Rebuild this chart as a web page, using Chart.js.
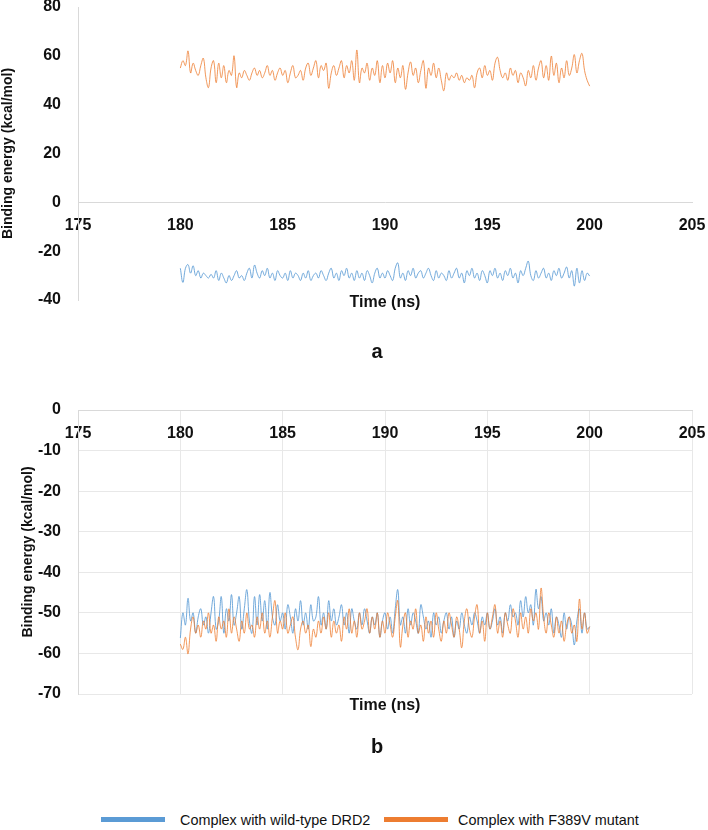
<!DOCTYPE html>
<html>
<head>
<meta charset="utf-8">
<title>Binding energy</title>
<script src="https://cdn.jsdelivr.net/npm/chart.js@4.4.0/dist/chart.umd.min.js"></script>
<style>
  html, body { margin: 0; padding: 0; background: #fff; }
  body { width: 708px; height: 830px; position: relative; overflow: hidden;
         font-family: Arial, 'Liberation Sans', sans-serif; color: #111; }
  canvas { position: absolute; left: 0; }
  #chartA { top: 0; }
  #chartB { top: 370px; }
  .lbl { position: absolute; font-weight: bold; transform: translate(-50%, -50%); white-space: nowrap; }
  .xt { font-size: 16px; }
  .panel { font-size: 20px; }
  .key { position: absolute; height: 5px; }
  .keytext { position: absolute; font-size: 14.4px; transform: translateY(-50%); white-space: nowrap; }
</style>
</head>
<body>
<canvas id="chartA" width="708" height="330"></canvas>
<canvas id="chartB" width="708" height="360"></canvas>

<div class="lbl xt" style="left:385px; top:302px;">Time (ns)</div>
<div class="lbl panel" style="left:377px; top:351px;">a</div>
<div class="lbl xt" style="left:385px; top:705px;">Time (ns)</div>
<div class="lbl panel" style="left:377px; top:746px;">b</div>

<div class="key" style="left:101px; top:817px; width:64px; background:#5B9BD5;"></div>
<div class="keytext" style="left:180px; top:820px;">Complex with wild-type DRD2</div>
<div class="key" style="left:384px; top:817px; width:64px; background:#ED7D31;"></div>
<div class="keytext" style="left:458px; top:820px;">Complex with F389V mutant</div>

<script>
// sampling of the trajectory (ns), 8 frames per ns from 180 to 200
const timeStart = 180;
const timeStep = 0.125;
const xTicks = [175, 180, 185, 190, 195, 200, 205];

// panel a
const wtA = [
  -27, -32.8, -27, -25.5, -29, -26, -30, -28,
  -31, -29, -30, -31, -29.5, -31, -28, -32,
  -29, -31, -33, -30, -32, -30, -28, -31,
  -30, -32, -29, -27, -31, -25.7, -29, -31,
  -28, -30, -27, -31, -29, -32, -28, -30,
  -31, -29, -32, -28, -31, -29, -30, -32,
  -29, -31, -28, -32, -30, -29, -31, -28,
  -30, -32, -29, -27, -31, -29, -32, -28,
  -30, -27, -31, -29, -32, -28, -31, -29,
  -32, -28, -30, -33, -29, -27, -31, -29,
  -31, -28, -30, -32, -27, -24.8, -31, -29,
  -32, -28, -30, -27, -31, -29, -28, -31,
  -29, -27, -30, -32, -28, -31, -29, -30,
  -32, -28, -31, -29, -27, -31, -29, -33,
  -28, -30, -27, -31, -29, -32, -28, -30,
  -33, -28, -30, -27, -31, -29, -32, -28,
  -30, -27, -31, -29, -33, -28, -30, -27,
  -24.1, -30, -32, -28, -31, -29, -27, -31,
  -29, -32, -28, -30, -27, -31, -29, -26.5,
  -31, -28, -34.3, -27, -33, -28, -32, -29,
  -30.2
];
const mutA = [
  55, 58, 56, 62, 53, 57, 54, 52,
  56, 59, 51, 47, 55, 58, 49, 57,
  51, 56, 49, 54, 52, 60, 47, 53,
  51, 54, 52, 50, 53, 55, 52, 54,
  51, 53, 56, 52, 54, 50, 53, 55,
  52, 54, 49, 53, 56, 51, 52, 54,
  50, 55, 57, 52, 55, 58, 51, 56,
  54, 57, 46.7, 53, 56, 52, 55, 58,
  51, 56, 53, 58, 50, 62.4, 49, 55,
  53, 57, 50, 55, 52, 58, 49, 56,
  51, 57, 53, 58, 49, 55, 51, 56,
  46.3, 53, 57.5, 52, 55, 49, 54, 58,
  46.7, 55, 52, 57, 51, 55, 50, 45.7,
  53, 50, 52, 51, 53, 50, 52, 49,
  51, 50, 52, 46.9, 53, 55, 51, 56,
  52, 54, 50, 57, 59.4, 54, 51, 53,
  50, 55, 52, 54, 49, 53, 51, 47.7,
  54, 51, 56, 50, 55, 58, 51, 56,
  50, 59.9, 52, 57, 49, 55, 51, 58,
  52, 55, 60.5, 53, 58, 61, 54, 50,
  47.6
];

// panel b
const wtB = [
  -56.2, -50, -53, -46.4, -52, -50, -55, -51,
  -49, -53, -51, -55, -50, -46, -54, -52,
  -46, -55, -49, -52, -45.5, -53, -50, -46,
  -54, -49, -44.3, -52, -55, -46, -53, -45.5,
  -52, -47, -54, -45, -51, -53, -48, -52,
  -50, -54, -48, -51, -55, -49, -52, -47,
  -53, -50, -54, -48, -52, -51, -46, -53,
  -50, -54, -47, -52, -49, -53, -51, -48,
  -53, -50, -55, -49, -52, -54, -50, -53,
  -49, -52, -55, -51, -53, -50, -56, -52,
  -50, -54, -51, -55, -49, -44.3, -53, -51,
  -55, -49, -53, -50, -52, -55, -48, -51,
  -54, -52, -56, -50, -53, -51, -55, -52,
  -50, -54, -51, -56, -52, -54, -50, -53,
  -55, -51, -53, -50, -52, -55, -51, -53,
  -50, -54, -52, -49, -53, -51, -55, -50,
  -52, -48, -51, -50, -53, -47, -51, -46,
  -50, -48, -53, -44.2, -49, -46, -52, -50,
  -53, -49, -55, -51, -53, -56, -50, -54,
  -51, -53, -57.9, -52, -49, -55, -50, -54,
  -53.4
];
const mutB = [
  -57.7, -59, -56, -60.1, -54, -51, -55, -53,
  -56, -52, -54, -50, -55, -53, -57, -51,
  -54, -52, -56, -49, -55, -51, -54, -57,
  -52, -55, -50, -54, -53, -56, -51, -54,
  -50, -55, -52, -56, -51, -47, -55, -52,
  -54, -50, -55, -53, -51, -56, -59.1, -54,
  -52, -55, -53, -58.3, -54, -56, -52, -55,
  -51, -54, -50, -56, -52, -55, -53, -57,
  -51, -54, -49, -55, -52, -56, -50, -54,
  -52, -49, -55, -51, -54, -50, -56, -52,
  -55, -50, -53, -56, -51, -47, -58.4, -53,
  -50, -56, -52, -54, -49, -55, -53, -57,
  -51, -55, -52, -56, -50, -54, -57, -52,
  -55, -50, -53, -56, -51, -54, -58.6, -52,
  -49, -54, -56, -51, -48, -55, -52, -57,
  -50, -54, -51, -48, -55, -52, -56, -50,
  -53, -55, -49, -52, -56, -50, -54, -51,
  -55, -49, -52, -50, -54, -43.9, -51, -55,
  -50, -53, -56, -51, -55, -52, -57, -53,
  -51, -55, -53, -57, -46.6, -54, -50, -55,
  -53.4
];

const BLUE = 'rgba(91, 155, 213, 0.85)';
const ORANGE = 'rgba(237, 125, 49, 0.8)';
const FONT = "Arial, 'Liberation Sans', sans-serif";

Chart.defaults.font.family = FONT;
Chart.defaults.color = '#111';

const toPoints = (vals) => vals.map((v, i) => ({ x: timeStart + i * timeStep, y: v }));

function series(vals, color, order) {
  return {
    data: toPoints(vals),
    borderColor: color,
    borderWidth: 1,
    pointRadius: 0,
    tension: 0.4,
    fill: false,
    order: order
  };
}

function makeOptions(yMin, yMax, yStep, showGrid, titlePad, padding) {
  return {
    responsive: false,
    animation: false,
    layout: { padding: padding },
    plugins: { legend: { display: false }, tooltip: { enabled: false } },
    scales: {
      x: {
        type: 'linear',
        position: { y: 0 },
        min: 175,
        max: 205,
        afterBuildTicks: (scale) => { scale.ticks = xTicks.map(v => ({ value: v })); },
        afterFit: (scale) => { scale.paddingLeft = 0; scale.paddingRight = 0; },
        ticks: { color: '#111', padding: 14, font: { size: 16, weight: 'bold' } },
        grid: { display: showGrid, drawTicks: false, color: '#e8e8e8' },
        border: { display: true, color: '#d9d9d9' }
      },
      y: {
        min: yMin,
        max: yMax,
        ticks: { stepSize: yStep, color: '#111', padding: 17,
                 font: { size: 16, weight: 'bold' } },
        grid: { display: showGrid, drawTicks: false, color: '#e8e8e8' },
        border: { display: true, color: '#d9d9d9' },
        title: { display: true, text: 'Binding energy (kcal/mol)', color: '#111',
                 font: { size: 14, weight: 'bold' }, padding: { top: titlePad, bottom: 0 } },
        afterFit: (scale) => {
          scale.width = 78;
          scale.paddingTop = 0;
          scale.paddingBottom = 0;
        }
      }
    }
  };
}

new Chart(document.getElementById('chartA'), {
  type: 'line',
  data: { datasets: [series(wtA, BLUE, 2), series(mutA, ORANGE, 1)] },
  options: makeOptions(-40, 80, 20, false, 0, { left: 0, right: 16, top: 7, bottom: 30 })
});

new Chart(document.getElementById('chartB'), {
  type: 'line',
  data: { datasets: [series(wtB, BLUE, 2), series(mutB, ORANGE, 1)] },
  options: makeOptions(-70, 0, 10, true, 20, { left: 0, right: 16, top: 40, bottom: 36 })
});
</script>
</body>
</html>
